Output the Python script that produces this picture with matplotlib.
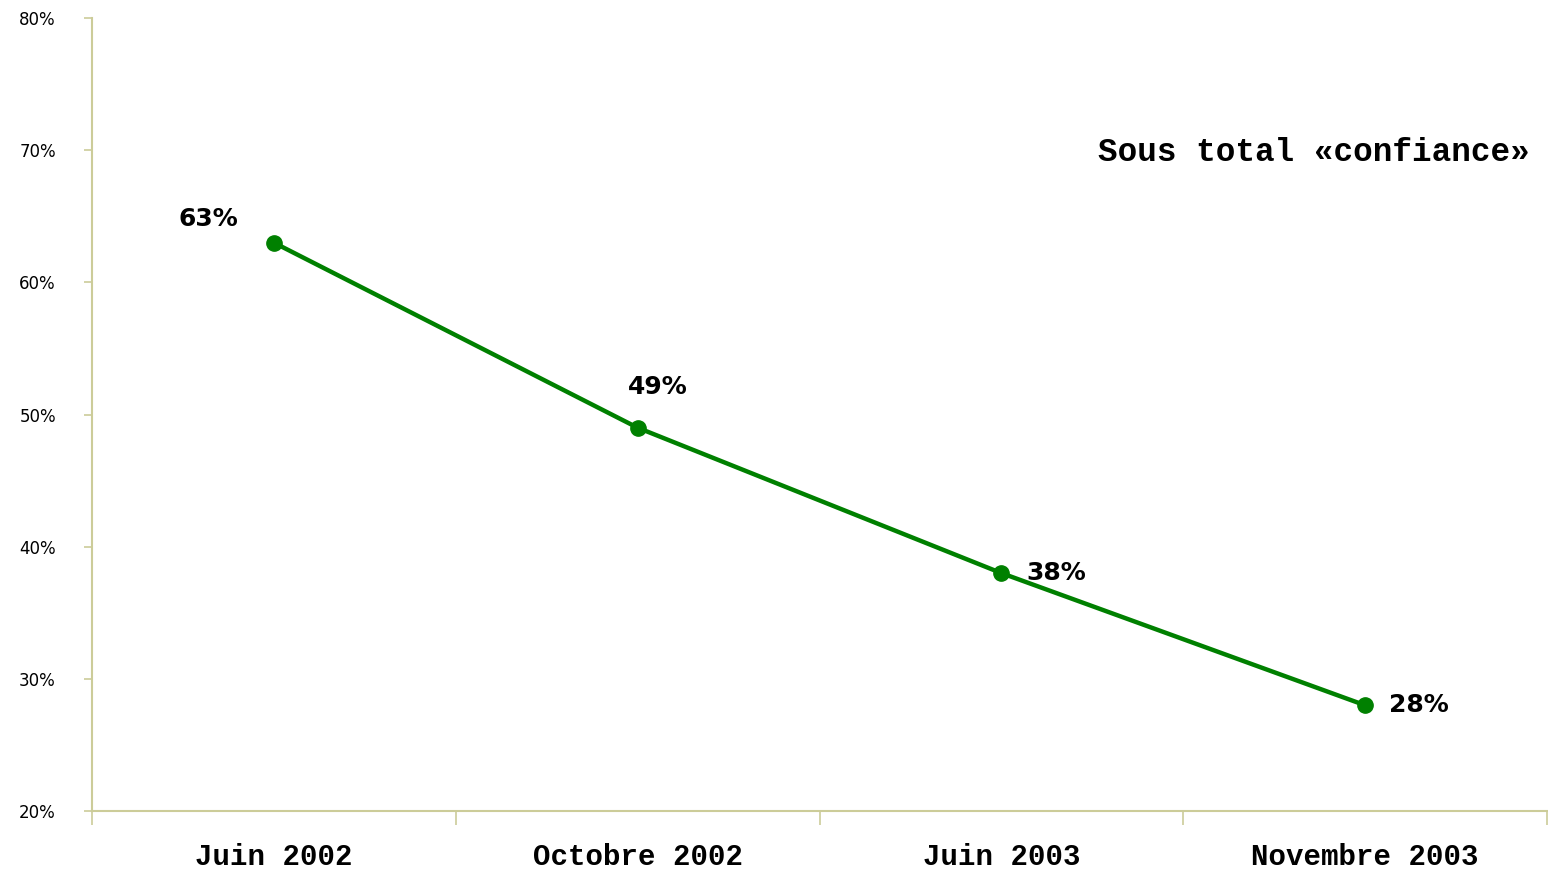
import matplotlib.pyplot as plt

# Sous total "confiance" par vague d'enquête
vagues = ["Juin 2002", "Octobre 2002", "Juin 2003", "Novembre 2003"]
confiance = [63, 49, 38, 28]
etiquettes = ["63%", "49%", "38%", "28%"]
decalages = [(-65, 24), (20, 41), (55, 0), (54, 0)]  # en pixels

axe_couleur = "#cccc99"
vert = "#008000"

fig = plt.figure(figsize=(15.48, 8.72), dpi=100)
ax = fig.add_axes([92/1548, 1-811/872, 1-92/1548-1/1548, (811-18)/872])

x = list(range(len(vagues)))
ax.plot(x, confiance, color=vert, linewidth=3.2, marker="o", markersize=11,
        solid_capstyle="round")

for xi, yi, lab, (dx, dy) in zip(x, confiance, etiquettes, decalages):
    ax.annotate(lab, (xi, yi), xytext=(dx*0.72, dy*0.72), textcoords="offset points",
                ha="center", va="center", fontsize=18, fontweight="bold",
                family="DejaVu Sans")

ax.set_xlim(-0.5, 3.5)
ax.set_ylim(20, 80)

# graduations entre les catégories
ax.set_xticks([i - 0.5 for i in range(len(vagues) + 1)])
ax.set_xticklabels([])
ax.set_xticks(x, minor=True)
ax.set_xticklabels(vagues, minor=True, fontsize=21, fontweight="bold",
                   family="Liberation Mono")
ax.tick_params(axis="x", which="major", length=10, color=axe_couleur, width=1.2)
ax.tick_params(axis="x", which="minor", length=0, pad=23)

ax.set_yticks(range(20, 81, 10))
ax.set_yticklabels([f"{v}%" for v in range(20, 81, 10)], fontsize=12)
ax.tick_params(axis="y", length=6, color=axe_couleur, width=1.2, pad=20)

for cote in ["top", "right"]:
    ax.spines[cote].set_visible(False)
for cote in ["left", "bottom"]:
    ax.spines[cote].set_color(axe_couleur)
    ax.spines[cote].set_linewidth(1.5)

fig.text(1530/1548, 1-152/872, "Sous total «confiance»", ha="right", va="center",
         fontsize=23.5, fontweight="bold", family="Liberation Mono")

plt.savefig("out.png", dpi=100)
